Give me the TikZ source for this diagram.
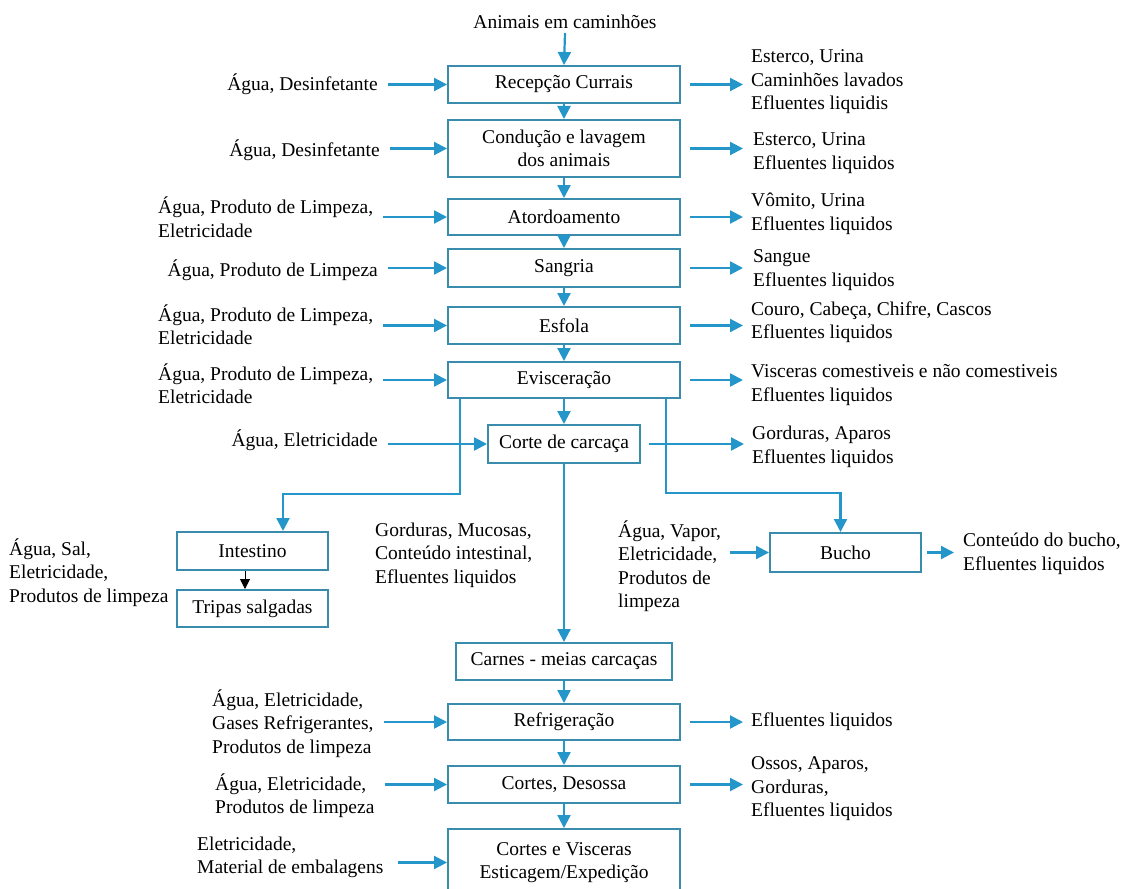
\documentclass[tikz,border=0pt]{standalone}
\usepackage{fontspec}
\setmainfont{LiberationSerif}[Extension=.ttf,UprightFont=*-Regular,BoldFont=*-Bold,ItalicFont=*-Italic,BoldItalicFont=*-BoldItalic]
\usetikzlibrary{arrows.meta,calc}
\definecolor{boxc}{RGB}{58,140,172}
\definecolor{arrc}{RGB}{36,150,202}
\begin{document}
\begin{tikzpicture}[x=1pt,y=-1pt,
  font=\fontsize{19.5}{23.5}\selectfont,
  pbox/.style={draw=boxc,line width=2pt,minimum width=232pt,inner sep=0pt,align=center},
  lab/.style={inner sep=0pt,align=left},
  arr/.style={draw=arrc,line width=2.2pt,-{Triangle[length=13pt,width=13pt]}},
  blk/.style={draw=black,line width=1pt,-{Triangle[length=10pt,width=10pt]}}]
\useasboundingbox (0,0) rectangle (1131,888);
\fill[white] (0,0) rectangle (1131,888);
\clip (0,0) rectangle (1131,888);

% main column
\node[pbox,minimum height=37pt] (rec) at (564,84.5) {Recepção Currais};
\node[pbox,minimum height=57pt] (cond) at (564,148.5) {Condução e lavagem\\dos animais};
\node[pbox,minimum height=36pt] (ato) at (564,217) {Atordoamento};
\node[pbox,minimum height=38pt] (san) at (564,268) {Sangria};
\node[pbox,minimum height=37pt] (esf) at (564,325.5) {Esfola};
\node[pbox,minimum height=36pt] (evi) at (564,380) {Evisceração};
\node[pbox,minimum width=152pt,minimum height=38pt] (cor) at (564,444) {Corte de carcaça};
\node[pbox,minimum width=216pt,minimum height=37pt] (car) at (564,661.5) {Carnes - meias carcaças};
\node[pbox,minimum height=36pt] (ref) at (564,722) {Refrigeração};
\node[pbox,minimum height=37pt] (cds) at (564,784.5) {Cortes, Desossa};
\node[pbox,minimum height=67pt] (cvi) at (564,862.5) {Cortes e Visceras\\Esticagem/Expedição};
\node[pbox,minimum width=151pt,minimum height=38pt] (int) at (252.5,551) {Intestino};
\node[pbox,minimum width=151pt,minimum height=37pt] (tri) at (252.5,608.5) {Tripas salgadas};
\node[pbox,minimum width=151pt,minimum height=39pt] (buc) at (845.5,552.5) {Bucho};

% top
\node[lab] (ani) at (565,22) {Animais em caminhões};
\draw[arr] ([yshift=-4pt]ani.south) -- (rec.north);

\foreach \a/\b in {rec/cond,cond/ato,ato/san,san/esf,esf/evi,evi/cor,cor/car,car/ref,ref/cds,cds/cvi}
  \draw[arr] (\a) -- (\b);

% branches
\draw[arr] ([xshift=13pt]evi.south west) -- ++(0,95) -| ([xshift=30.5pt]int.north);
\draw[arr] ([xshift=-15pt]evi.south east) -- ++(0,94) -| ([xshift=-5pt]buc.north);
\draw[blk] ([xshift=-7.5pt]int.south) -- ([xshift=-7.5pt]tri.north);

% inputs
\node[lab,anchor=east] (i1) at (378,84) {Água, Desinfetante};
\draw[arr] ($(rec.west -| i1.east)+(10,0)$) -- (rec.west);
\node[lab,anchor=east] (i2) at (380,150) {Água, Desinfetante};
\draw[arr] ($(cond.west -| i2.east)+(10,0)$) -- (cond.west);
\node[lab,anchor=west] (i3) at (158,217) {Água, Produto de Limpeza,\\Eletricidade};
\draw[arr] ($(ato.west -| i3.east)+(10,0)$) -- (ato.west);
\node[lab,anchor=east] (i4) at (378,270) {Água, Produto de Limpeza};
\draw[arr] ($(san.west -| i4.east)+(10,0)$) -- (san.west);
\node[lab,anchor=west] (i5) at (158,324.5) {Água, Produto de Limpeza,\\Eletricidade};
\draw[arr] ($(esf.west -| i5.east)+(10,0)$) -- (esf.west);
\node[lab,anchor=west] (i6) at (158,383.5) {Água, Produto de Limpeza,\\Eletricidade};
\draw[arr] ($(evi.west -| i6.east)+(10,0)$) -- (evi.west);
\node[lab,anchor=east] (i7) at (378,440) {Água, Eletricidade};
\draw[arr] ($(cor.west -| i7.east)+(10,0)$) -- (cor.west);
\node[lab,anchor=west] (i8) at (9,572.5) {Água, Sal,\\Eletricidade,\\Produtos de limpeza};
\node[lab,anchor=west] (ib) at (618,566) {Água, Vapor,\\Eletricidade,\\Produtos de\\limpeza};
\draw[arr] ($(buc.west -| ib.east)+(9,0)$) -- (buc.west);
\node[lab,anchor=west] (ir) at (212,723.5) {Água, Eletricidade,\\Gases Refrigerantes,\\Produtos de limpeza};
\draw[arr] ($(ref.west -| ir.east)+(10,0)$) -- (ref.west);
\node[lab,anchor=west] (ic) at (215,795.5) {Água, Eletricidade,\\Produtos de limpeza};
\draw[arr] ($(cds.west -| ic.east)+(10,0)$) -- (cds.west);
\node[lab,anchor=west] (iv) at (197,857.5) {Eletricidade,\\Material de embalagens};
\draw[arr] ($(iv.east)+(14,5)$) -- ($(cvi.west |- iv.east)+(0,5)$);

\node[lab,anchor=west] (gm) at (375,555) {Gorduras, Mucosas,\\Conteúdo intestinal,\\Efluentes liquidos};

% outputs
\node[lab,anchor=west] (o1) at (751,82) {Esterco, Urina\\Caminhões lavados\\Efluentes liquidis};
\draw[arr] ($(rec.east)+(9,0)$) -- ($(rec.east -| o1.west)+(-8,0)$);
\node[lab,anchor=west] (o2) at (753,153) {Esterco, Urina\\Efluentes liquidos};
\draw[arr] ($(cond.east)+(9,0)$) -- ($(cond.east -| o1.west)+(-8,0)$);
\node[lab,anchor=west] (o3) at (751,214) {Vômito, Urina\\Efluentes liquidos};
\draw[arr] ($(ato.east)+(9,0)$) -- ($(ato.east -| o3.west)+(-8,0)$);
\node[lab,anchor=west] (o4) at (753,270) {Sangue\\Efluentes liquidos};
\draw[arr] ($(san.east)+(9,0)$) -- ($(san.east -| o3.west)+(-8,0)$);
\node[lab,anchor=west] (o5) at (751,322) {Couro, Cabeça, Chifre, Cascos\\Efluentes liquidos};
\draw[arr] ($(esf.east)+(9,0)$) -- ($(esf.east -| o5.west)+(-8,0)$);
\node[lab,anchor=west] (o6) at (751,385) {Visceras comestiveis e não comestiveis\\Efluentes liquidos};
\draw[arr] ($(evi.east)+(9,0)$) -- ($(evi.east -| o6.west)+(-8,0)$);
\node[lab,anchor=west] (o7) at (752,447) {Gorduras, Aparos\\Efluentes liquidos};
\draw[arr] ($(cor.east)+(8,0)$) -- ($(cor.east -| o7.west)+(-8,0)$);
\node[lab,anchor=west] (ob) at (963,554) {Conteúdo do bucho,\\Efluentes liquidos};
\draw[arr] ($(buc.east)+(5,0)$) -- ($(buc.east -| ob.west)+(-9,0)$);
\node[lab,anchor=west] (o9) at (751,722) {Efluentes liquidos};
\draw[arr] ($(ref.east)+(9,0)$) -- ($(ref.east -| o9.west)+(-8,0)$);
\node[lab,anchor=west] (o10) at (751,789) {Ossos, Aparos,\\Gorduras,\\Efluentes liquidos};
\draw[arr] ($(cds.east)+(9,0)$) -- ($(cds.east -| o10.west)+(-8,0)$);
\end{tikzpicture}
\end{document}
